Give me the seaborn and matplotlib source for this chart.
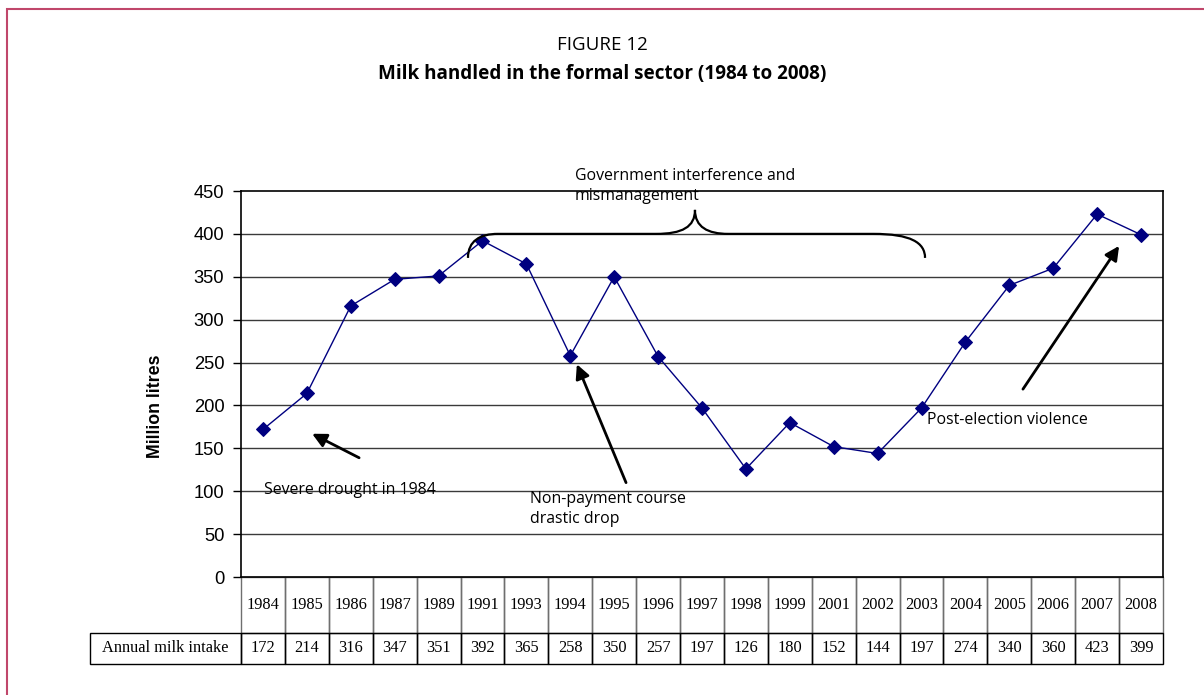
import matplotlib
matplotlib.use("Agg")
import matplotlib.pyplot as plt
from matplotlib.patches import Rectangle, PathPatch
from matplotlib.path import Path
import numpy as np
import seaborn as sns

# Milk intake by the formal sector, million litres
years = ["1984", "1985", "1986", "1987", "1989", "1991", "1993", "1994", "1995",
         "1996", "1997", "1998", "1999", "2001", "2002", "2003", "2004", "2005",
         "2006", "2007", "2008"]
intake = [172, 214, 316, 347, 351, 392, 365, 258, 350, 257, 197, 126, 180,
          152, 144, 197, 274, 340, 360, 423, 399]
row_label = "Annual milk intake"
y_ticks = [0, 50, 100, 150, 200, 250, 300, 350, 400, 450]

sns.set_theme(style="white")
plt.rcParams["font.family"] = ["Liberation Sans", "DejaVu Sans"]
plt.rcParams.update({"text.color": "black", "axes.labelcolor": "black",
                     "xtick.color": "black", "ytick.color": "black"})

W, H = 1204, 695
fig = plt.figure(figsize=(W / 100, H / 100), dpi=100)
ax = fig.add_axes([241 / W, 1 - 577 / H, 922 / W, 386 / H])

pos = np.arange(len(years))
sns.lineplot(x=pos, y=intake, ax=ax, color="#000080", linewidth=1.0,
             marker="D", markersize=7, markeredgecolor="#000080",
             markerfacecolor="#000080", zorder=5)

ax.set_xlim(-0.5, len(years) - 0.5)
ax.set_ylim(0, 450)
ax.set_yticks(y_ticks)
ax.set_yticklabels([str(t) for t in y_ticks], fontsize=13.2)
ax.set_xticks([])
ax.tick_params(axis="y", direction="out", length=6, width=1, color="black",
               labelcolor="black", pad=6, left=True)
for t in y_ticks[1:-1]:
    ax.axhline(t, color="#3a3a3a", linewidth=1.0, zorder=1)
for s in ax.spines.values():
    s.set_color("black")
    s.set_linewidth(1.2)
ax.set_xlabel("")
ax.set_ylabel("Million litres", fontsize=12.8, fontweight="bold", color="black")
ax.yaxis.set_label_coords(-77 / 922, 1 - (406 - 191) / 386)

# Data table beneath the axis
cell_text = [[""] + years, [row_label] + [str(v) for v in intake]]
label_w = 151 / 922
col_w = [label_w] + [1 / len(years)] * len(years)
tbl = ax.table(cellText=cell_text, colWidths=col_w, cellLoc="center",
               bbox=[-label_w, -87 / 386, 1 + label_w, 87 / 386])
tbl.auto_set_font_size(False)
for (r, c), cell in tbl.get_celld().items():
    cell.set_height(56 if r == 0 else 31)
    cell.set_linewidth(1.0)
    cell.set_edgecolor("#6f6f6f" if r == 0 else "black")
    cell.get_text().set_fontfamily("Liberation Serif")
    cell.get_text().set_fontsize(11.8)
    cell.get_text().set_color("black")
    cell.set_facecolor("none")
    if r == 0 and c == 0:
        cell.visible_edges = ""

# Annotations
note_font = dict(family="Open Sans", fontsize=11.4, color="black")
arrow = dict(arrowstyle="-|>", color="black", lw=2.0, mutation_scale=21,
             shrinkA=0, shrinkB=0)

ax.annotate("", xy=(1.12, 167), xytext=(2.19, 139), arrowprops=arrow)
ax.text(0.02, 102, "Severe drought in 1984", ha="left", va="center", **note_font)

ax.annotate("", xy=(7.15, 248), xytext=(8.27, 110), arrowprops=arrow)
ax.text(6.08, 100, "Non-payment course\ndrastic drop", ha="left", va="top",
        linespacing=1.35, **note_font)

ax.annotate("", xy=(19.5, 386), xytext=(17.31, 219), arrowprops=arrow)
ax.text(15.13, 183, "Post-election violence", ha="left", va="center", **note_font)

ax.text(7.11, 477, "Government interference and\nmismanagement", ha="left",
        va="top", linespacing=1.35, clip_on=False, **note_font)

# Curly brace spanning the interference years
verts = [(4.67, 372), (4.67, 392), (4.95, 400), (5.35, 400),
         (8.95, 400),
         (9.55, 400), (9.84, 408), (9.84, 428),
         (9.84, 408), (10.13, 400), (10.6, 400),
         (13.9, 400),
         (14.75, 400), (15.08, 390), (15.08, 372)]
codes = [Path.MOVETO, Path.CURVE4, Path.CURVE4, Path.CURVE4,
         Path.LINETO,
         Path.CURVE4, Path.CURVE4, Path.CURVE4,
         Path.CURVE4, Path.CURVE4, Path.CURVE4,
         Path.LINETO,
         Path.CURVE4, Path.CURVE4, Path.CURVE4]
ax.add_patch(PathPatch(Path(verts, codes), facecolor="none", edgecolor="black",
                       lw=1.6, zorder=6))

# Titles
fig.text(602 / W, 1 - 45 / H, "FIGURE 12", ha="center", va="center",
         family="Open Sans", fontsize=13.5, color="black")
fig.text(602 / W, 1 - 74 / H, "Milk handled in the formal sector (1984 to 2008)",
         ha="center", va="center", family="Open Sans", fontweight="bold",
         fontsize=13.6, color="black")

# Page frame
fig.patches.append(Rectangle((7 / W, -0.1), 1.2, 1 - 9 / H + 0.1,
                             transform=fig.transFigure, fill=False,
                             edgecolor="#c0476b", lw=1.5))

fig.savefig("out.png", dpi=100)
